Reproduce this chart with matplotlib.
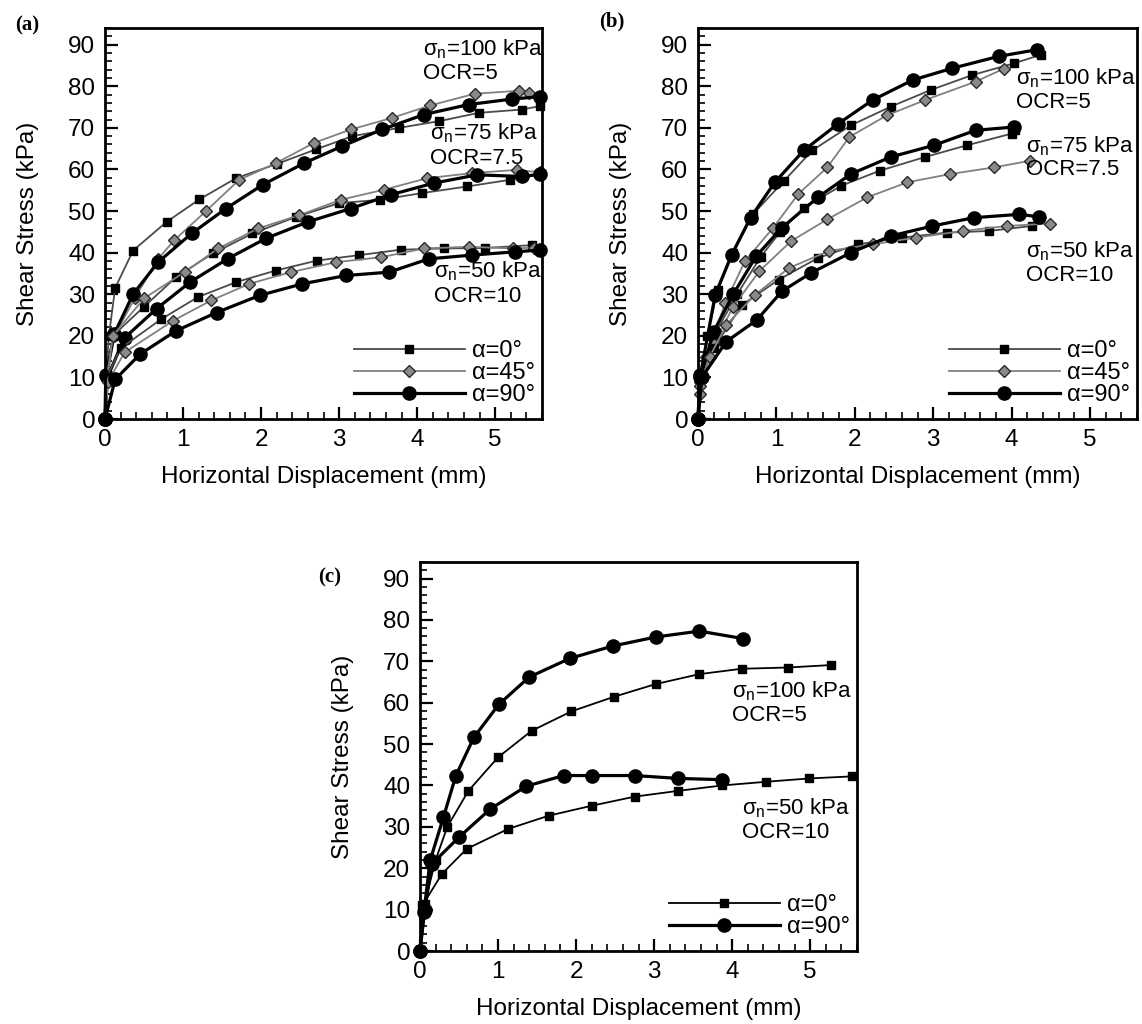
import matplotlib
matplotlib.use('Agg')
import matplotlib.pyplot as plt
from matplotlib.ticker import MultipleLocator

plt.rcParams['font.family'] = 'Liberation Sans'
plt.rcParams['mathtext.fontset'] = 'custom'
plt.rcParams['mathtext.rm'] = 'Liberation Sans'

# ---- panel (a) ----
a100_0_x = [0, 0.01, 0.05, 0.13, 0.36, 0.79, 1.21, 1.68, 2.2, 2.7, 3.17, 3.77, 4.28, 4.79, 5.34, 5.57]
a100_0_y = [0, 10, 20, 31.5, 40.5, 47.4, 52.8, 57.9, 61.3, 64.8, 68.0, 70.0, 71.6, 73.6, 74.4, 75.2]
a100_45_x = [0, 0.03, 0.12, 0.38, 0.68, 0.89, 1.3, 1.72, 2.19, 2.68, 3.15, 3.68, 4.17, 4.74, 5.3, 5.43]
a100_45_y = [0, 10, 20, 29, 38.5, 43, 50.1, 57.5, 61.5, 66.4, 69.6, 72.4, 75.4, 78.2, 78.9, 78.3]
a100_90_x = [0, 0.01, 0.12, 0.36, 0.68, 1.11, 1.55, 2.02, 2.55, 3.04, 3.55, 4.09, 4.66, 5.21, 5.57]
a100_90_y = [0, 10.5, 20.5, 30, 37.7, 44.6, 50.6, 56.3, 61.5, 65.6, 69.6, 73.2, 75.6, 76.9, 77.5]

a75_0_x = [0, 0.02, 0.1, 0.5, 0.91, 1.38, 1.89, 2.45, 3.0, 3.53, 4.06, 4.64, 5.19, 5.57]
a75_0_y = [0, 10, 20, 27, 34.1, 39.8, 44.6, 48.6, 51.9, 52.7, 54.3, 55.9, 57.5, 59.0]
a75_45_x = [0, 0.03, 0.1, 0.5, 1.02, 1.45, 1.96, 2.49, 3.02, 3.57, 4.13, 4.7, 5.28, 5.57]
a75_45_y = [0, 10, 20, 29, 35.3, 41, 45.8, 49, 52.7, 55.1, 57.9, 59.1, 59.9, 59.3]
a75_90_x = [0, 0.03, 0.25, 0.66, 1.09, 1.57, 2.06, 2.6, 3.15, 3.66, 4.21, 4.77, 5.34, 5.57]
a75_90_y = [0, 10, 19.5, 26.5, 32.9, 38.5, 43.4, 47.4, 50.6, 53.9, 56.7, 58.7, 58.3, 58.8]

a50_0_x = [0, 0.02, 0.2, 0.72, 1.19, 1.68, 2.19, 2.72, 3.26, 3.79, 4.34, 4.87, 5.47]
a50_0_y = [0, 10, 17, 24, 29.3, 32.9, 35.7, 38.1, 39.4, 40.7, 41, 41.1, 41.8]
a50_45_x = [0, 0.04, 0.25, 0.87, 1.36, 1.85, 2.38, 2.96, 3.54, 4.09, 4.66, 5.23, 5.5]
a50_45_y = [0, 9, 16, 23.6, 28.5, 32.5, 35.3, 37.7, 38.9, 41, 41.4, 41, 41.2]
a50_90_x = [0, 0.13, 0.45, 0.91, 1.43, 1.98, 2.53, 3.09, 3.64, 4.15, 4.7, 5.26, 5.57]
a50_90_y = [0, 9.5, 15.6, 21.2, 25.6, 29.7, 32.5, 34.5, 35.3, 38.5, 39.4, 40.2, 40.6]

# ---- panel (b) ----
b100_0_x = [0, 0.03, 0.12, 0.25, 0.45, 0.7, 1.1, 1.46, 1.95, 2.46, 2.97, 3.5, 4.03, 4.38]
b100_0_y = [0, 10, 20, 31, 40, 49.2, 57.3, 64.6, 70.6, 75.1, 79.1, 82.7, 85.5, 87.6]
b100_45_x = [0, 0.02, 0.1, 0.35, 0.6, 0.96, 1.28, 1.65, 1.93, 2.41, 2.9, 3.54, 3.9]
b100_45_y = [0, 6, 15, 28, 38, 46, 54.1, 60.5, 67.8, 73, 76.7, 81.1, 84.2]
b100_90_x = [0, 0.03, 0.22, 0.43, 0.67, 0.98, 1.35, 1.79, 2.23, 2.74, 3.24, 3.84, 4.33]
b100_90_y = [0, 10.5, 29.9, 39.5, 48.4, 56.9, 64.6, 71, 76.7, 81.5, 84.3, 87.2, 88.8]

b75_0_x = [0, 0.03, 0.2, 0.5, 0.8, 1.05, 1.35, 1.83, 2.32, 2.9, 3.43, 4.0, 4.05]
b75_0_y = [0, 10, 20, 30, 39, 45, 50.8, 56.1, 59.7, 63, 65.8, 68.6, 69.5]
b75_45_x = [0, 0.03, 0.2, 0.45, 0.78, 1.19, 1.65, 2.16, 2.67, 3.22, 3.78, 4.24]
b75_45_y = [0, 9, 18, 27, 35.5, 42.8, 48, 53.3, 56.9, 58.9, 60.5, 62.1]
b75_90_x = [0, 0.03, 0.2, 0.45, 0.74, 1.07, 1.53, 1.95, 2.46, 3.01, 3.54, 4.03]
b75_90_y = [0, 10, 21, 30, 39.1, 46, 53.3, 58.9, 63, 65.8, 69.4, 70.2]

b50_0_x = [0, 0.03, 0.2, 0.56, 1.03, 1.53, 2.04, 2.6, 3.17, 3.71, 4.26]
b50_0_y = [0, 9, 17, 27.4, 33.5, 38.7, 42, 43.6, 44.8, 45.2, 46.4]
b50_45_x = [0, 0.03, 0.15, 0.36, 0.73, 1.16, 1.67, 2.23, 2.78, 3.38, 3.94, 4.49]
b50_45_y = [0, 8, 15, 22.6, 29.9, 36.3, 40.4, 42, 43.6, 45.2, 46.4, 47]
b50_90_x = [0, 0.05, 0.36, 0.75, 1.07, 1.44, 1.95, 2.46, 2.99, 3.52, 4.1, 4.35]
b50_90_y = [0, 10, 18.6, 23.8, 30.7, 35.1, 40, 44, 46.4, 48.4, 49.2, 48.6]

# ---- panel (c) ----
c100_0_x = [0, 0.06, 0.2, 0.35, 0.62, 1.0, 1.43, 1.94, 2.48, 3.02, 3.58, 4.12, 4.71, 5.27]
c100_0_y = [0, 11.4, 22, 30, 38.7, 46.8, 53.2, 57.9, 61.4, 64.5, 66.9, 68.2, 68.5, 69.1]
c100_90_x = [0, 0.05, 0.13, 0.3, 0.46, 0.69, 1.01, 1.4, 1.92, 2.47, 3.03, 3.58, 4.14]
c100_90_y = [0, 9.4, 21.9, 32.3, 42.4, 51.6, 59.6, 66.2, 70.7, 73.7, 75.9, 77.3, 75.5]
c50_0_x = [0, 0.03, 0.28, 0.6, 1.13, 1.65, 2.2, 2.75, 3.31, 3.87, 4.44, 4.99, 5.54]
c50_0_y = [0, 11, 18.6, 24.7, 29.5, 32.7, 35.1, 37.3, 38.7, 40, 40.9, 41.7, 42.2]
c50_90_x = [0, 0.06, 0.15, 0.5, 0.9, 1.36, 1.84, 2.21, 2.75, 3.31, 3.87]
c50_90_y = [0, 9.8, 21, 27.5, 34.3, 39.8, 42.4, 42.4, 42.4, 41.7, 41.4]

labels = {0: 'α=0°', 45: 'α=45°', 90: 'α=90°'}

styles = {
    0: dict(color='#4a4a4a', lw=1.3, marker='s', ms=6, mfc='black', mec='black'),
    45: dict(color='#808080', lw=1.3, marker='D', ms=6.5, mfc='#8a8a8a', mec='#2a2a2a'),
    90: dict(color='black', lw=2.3, marker='o', ms=9.5, mfc='black', mec='black'),
}


def setup(ax):
    ax.set_xlim(0, 5.6)
    ax.set_ylim(0, 94)
    ax.xaxis.set_major_locator(MultipleLocator(1))
    ax.xaxis.set_minor_locator(MultipleLocator(0.2))
    ax.yaxis.set_major_locator(MultipleLocator(10))
    ax.yaxis.set_minor_locator(MultipleLocator(2))
    ax.tick_params(which='both', direction='in', top=False, right=False)
    ax.tick_params(which='major', length=9, width=1.6, labelsize=17.5, pad=7)
    ax.tick_params(which='minor', length=5, width=1.2)
    for s in ax.spines.values():
        s.set_linewidth(2.0)
    ax.set_xlabel('Horizontal Displacement (mm)', fontsize=17.5)
    ax.set_ylabel('Shear Stress (kPa)', fontsize=17.5)
    ax.xaxis.set_label_coords(0.5, -0.12)
    ax.yaxis.set_label_coords(-0.15, 0.5)


def note(ax, x, y1, y2, sig, ocr):
    ax.text(x, y1, r'$\mathregular{\sigma_n}$=' + sig + ' kPa', fontsize=16, va='center', ha='left')
    ax.text(x, y2, 'OCR=' + ocr, fontsize=16, va='center', ha='left')


def curve(ax, x, y, ang, lab=False):
    ax.plot(x, y, label=labels[ang] if lab else None, clip_on=False, **styles[ang])


fig = plt.figure(figsize=(11.42, 10.24), dpi=100)
ax_a = fig.add_axes([105 / 1142, 1 - 419 / 1024, 437 / 1142, 391 / 1024])
ax_b = fig.add_axes([698 / 1142, 1 - 419 / 1024, 439 / 1142, 391 / 1024])
ax_c = fig.add_axes([420 / 1142, 1 - 951 / 1024, 437 / 1142, 389 / 1024])

# (a)
curve(ax_a, a100_0_x, a100_0_y, 0, True)
curve(ax_a, a100_45_x, a100_45_y, 45, True)
curve(ax_a, a100_90_x, a100_90_y, 90, True)
curve(ax_a, a75_0_x, a75_0_y, 0)
curve(ax_a, a75_45_x, a75_45_y, 45)
curve(ax_a, a75_90_x, a75_90_y, 90)
curve(ax_a, a50_0_x, a50_0_y, 0)
curve(ax_a, a50_45_x, a50_45_y, 45)
curve(ax_a, a50_90_x, a50_90_y, 90)
note(ax_a, 4.07, 88.8, 83.0, '100', '5')
note(ax_a, 4.17, 68.7, 62.6, '75', '7.5')
note(ax_a, 4.21, 35.5, 29.4, '50', '10')

# (b)
curve(ax_b, b100_0_x, b100_0_y, 0, True)
curve(ax_b, b100_45_x, b100_45_y, 45, True)
curve(ax_b, b100_90_x, b100_90_y, 90, True)
curve(ax_b, b75_0_x, b75_0_y, 0)
curve(ax_b, b75_45_x, b75_45_y, 45)
curve(ax_b, b75_90_x, b75_90_y, 90)
curve(ax_b, b50_0_x, b50_0_y, 0)
curve(ax_b, b50_45_x, b50_45_y, 45)
curve(ax_b, b50_90_x, b50_90_y, 90)
note(ax_b, 4.06, 81.9, 76.2, '100', '5')
note(ax_b, 4.18, 65.7, 59.9, '75', '7.5')
note(ax_b, 4.18, 40.3, 34.5, '50', '10')

# (c)
styles[0]['color'] = 'black'
curve(ax_c, c100_0_x, c100_0_y, 0, True)
curve(ax_c, c100_90_x, c100_90_y, 90, True)
curve(ax_c, c50_0_x, c50_0_y, 0)
curve(ax_c, c50_90_x, c50_90_y, 90)
note(ax_c, 4.0, 62.8, 57.0, '100', '5')
note(ax_c, 4.12, 34.6, 28.6, '50', '10')

for ax in (ax_a, ax_b, ax_c):
    setup(ax)
    ax.legend(loc='lower right', bbox_to_anchor=(1.0, 0.015), frameon=False, fontsize=17,
              handlelength=4.7, handletextpad=0.3, labelspacing=0.0, borderpad=0.2,
              borderaxespad=0.1)

fig.text(27 / 1142, 1 - 25 / 1024, '(a)', family='Liberation Serif', weight='bold', fontsize=15,
         ha='center', va='center')
fig.text(612 / 1142, 1 - 21 / 1024, '(b)', family='Liberation Serif', weight='bold', fontsize=15,
         ha='center', va='center')
fig.text(330 / 1142, 1 - 577 / 1024, '(c)', family='Liberation Serif', weight='bold', fontsize=15,
         ha='center', va='center')

fig.savefig('out.png', dpi=100)
